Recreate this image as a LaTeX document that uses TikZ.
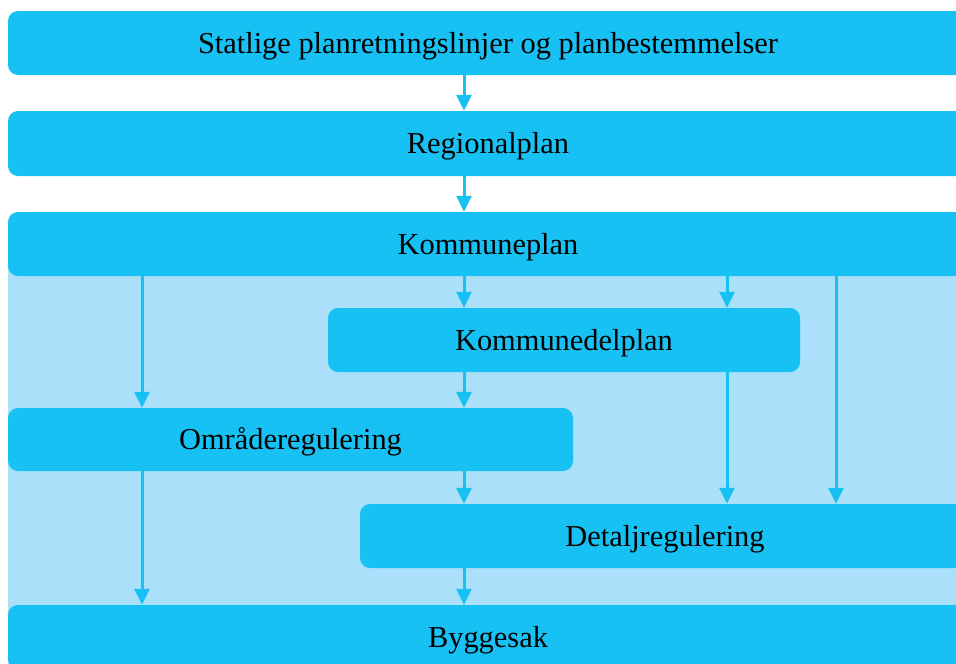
\documentclass[tikz,border=0pt]{standalone}
\usepackage{fontspec}
\setmainfont{Liberation Serif}
\usetikzlibrary{arrows.meta}
\definecolor{boxblue}{RGB}{23,193,243}
\definecolor{zoneblue}{RGB}{170,224,250}
\tikzset{
  planbox/.style={fill=boxblue, rounded corners=10pt, minimum height=64pt,
    inner sep=0pt, text height=24pt, text depth=4pt,
    font=\fontsize{30.4}{36}\selectfont, text=black},
  flow/.style={draw=boxblue, line width=3pt,
    -{Triangle[width=15pt,length=16pt]}, shorten >=0pt}
}
\begin{document}
\begin{tikzpicture}[x=1pt,y=-1pt]
  \useasboundingbox (0,0) rectangle (956,664);
  \clip (0,0) rectangle (956,664);
  \fill[white] (0,0) rectangle (956,664);

  % municipal planning zone
  \fill[zoneblue] (8,244) rectangle (980,690);

  % plan levels
  \node[planbox, minimum width=960pt] (stat) at (488,43)
    {Statlige planretningslinjer og planbestemmelser};
  \node[planbox, minimum width=960pt, minimum height=65pt] (reg) at (488,143.5) {Regionalplan};
  \node[planbox, minimum width=960pt] (kp) at (488,244) {Kommuneplan};
  \node[planbox, minimum width=472pt] (kdp) at (564,340) {Kommunedelplan};
  \node[planbox, minimum width=565pt, minimum height=63pt] (omr) at (290.5,439.5) {Områderegulering};
  \node[planbox, minimum width=610pt] (det) at (665,536) {Detaljregulering};
  \node[planbox, minimum width=960pt] (bygg) at (488,637) {Byggesak};

  % arrow columns
  \coordinate (colA) at (142,0);
  \coordinate (colB) at (464,0);
  \coordinate (colC) at (727,0);
  \coordinate (colD) at (836,0);

  \draw[flow] (stat.south -| colB) -- (reg.north -| colB);
  \draw[flow] (reg.south -| colB) -- (kp.north -| colB);
  \draw[flow] (kp.south -| colA) -- (omr.north -| colA);
  \draw[flow] (kp.south -| colB) -- (kdp.north -| colB);
  \draw[flow] (kp.south -| colC) -- (kdp.north -| colC);
  \draw[flow] (kp.south -| colD) -- (det.north -| colD);
  \draw[flow] (kdp.south -| colB) -- (omr.north -| colB);
  \draw[flow] (kdp.south -| colC) -- (det.north -| colC);
  \draw[flow] (omr.south -| colA) -- (bygg.north -| colA);
  \draw[flow] (omr.south -| colB) -- (det.north -| colB);
  \draw[flow] (det.south -| colB) -- (bygg.north -| colB);
\end{tikzpicture}
\end{document}
